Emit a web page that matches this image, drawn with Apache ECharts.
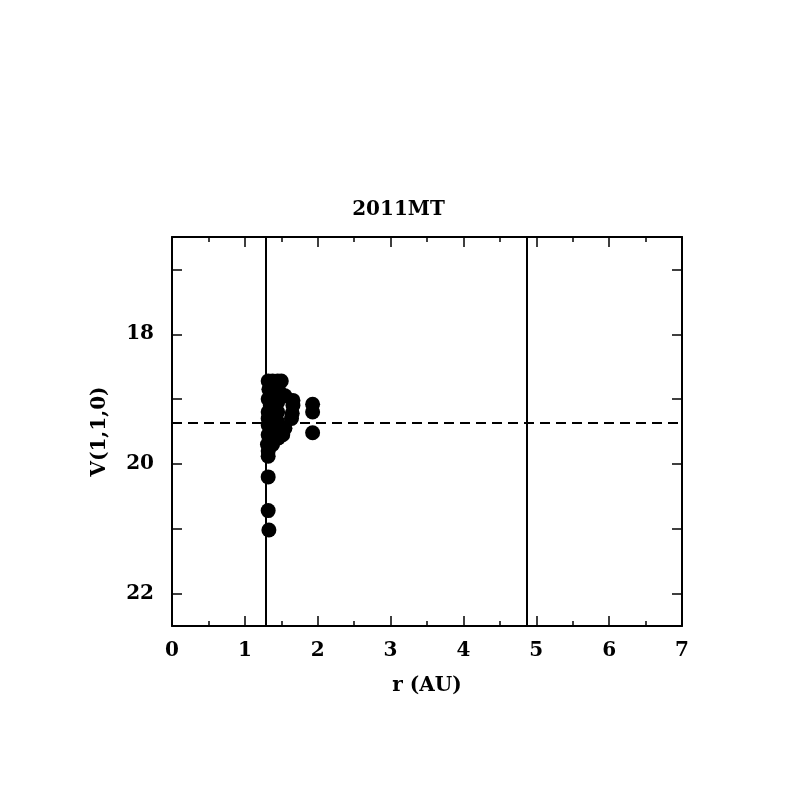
<!DOCTYPE html>
<html><head><meta charset="utf-8">
<script src="https://cdn.jsdelivr.net/npm/echarts@6/dist/echarts.min.js"></script>
<style>html,body{margin:0;padding:0;background:#fff}#c{width:797px;height:797px}</style>
</head><body><div id="c"></div>
<script>
const title = "2011MT";
const xName = "r (AU)";
const yName = "V(1,1,0)";
const rValues = [1.32,1.38,1.45,1.50,1.33,1.42,1.48,1.55,1.66,1.66,1.65,1.64,1.32,1.35,1.32,1.38,1.32,1.45,1.32,1.40,1.50,1.52,1.46,1.32,1.31,1.32,1.32,1.32,1.32,1.33,1.93,1.93,1.93,1.38,1.38,1.38,1.38,1.45,1.45,1.55];
const vValues = [18.72,18.72,18.72,18.72,18.85,18.80,18.90,18.95,19.02,19.10,19.22,19.30,19.00,19.10,19.20,19.25,19.30,19.35,19.40,19.45,19.50,19.55,19.60,19.55,19.70,19.80,19.88,20.20,20.72,21.02,19.08,19.20,19.52,19.00,19.30,19.50,19.70,19.05,19.20,19.45];
const yTicks = [17,18,19,20,21,22];
const yLabels = [18,20,22];
const verticalLines = [1.29, 4.87];
const meanV = 19.36;

const font = "DejaVu Serif";
const pts = rValues.map((r,i)=>[r, vValues[i]]);
const chart = echarts.init(document.getElementById('c'));
const axisLineStyle = {color:'#000', width:2};
const textStyle = {fontFamily:font, fontSize:20, fontWeight:'bold', color:'#000'};
chart.setOption({
  backgroundColor:'#fff',
  animation:false,
  title:{text:title, left:'center', top:195, textStyle:textStyle},
  grid:{left:172, right:115, top:237, bottom:171},
  xAxis:[{
    type:'value', min:0, max:7, interval:1, position:'bottom',
    name:xName, nameLocation:'middle', nameGap:50,
    nameTextStyle:textStyle,
    axisLine:{onZero:false, lineStyle:axisLineStyle},
    axisTick:{inside:true, length:10, lineStyle:{color:'#000', width:1.5}},
    minorTick:{show:true, splitNumber:2, length:5, lineStyle:{color:'#000', width:1.5}},
    axisLabel:Object.assign({margin:15}, textStyle),
    splitLine:{show:false}
  },{
    type:'value', min:0, max:7, interval:1, position:'top',
    axisLine:{onZero:false, lineStyle:axisLineStyle},
    axisTick:{inside:true, length:10, lineStyle:{color:'#000', width:1.5}},
    minorTick:{show:true, splitNumber:2, length:5, lineStyle:{color:'#000', width:1.5}},
    axisLabel:{show:false}, splitLine:{show:false}
  }],
  yAxis:[{
    type:'value', min:16.5, max:22.5, inverse:true, position:'left',
    name:yName, nameLocation:'middle', nameGap:62,
    nameTextStyle:textStyle,
    axisLine:{onZero:false, lineStyle:axisLineStyle},
    axisTick:{inside:true, length:10, lineStyle:{color:'#000', width:1.5}, customValues:yTicks},
    minorTick:{show:false},
    axisLabel:Object.assign({margin:18, customValues:yLabels}, textStyle),
    splitLine:{show:false}
  },{
    type:'value', min:16.5, max:22.5, inverse:true, position:'right',
    axisLine:{onZero:false, lineStyle:axisLineStyle},
    axisTick:{inside:true, length:10, lineStyle:{color:'#000', width:1.5}, customValues:yTicks},
    axisLabel:{show:false}, splitLine:{show:false}
  }],
  series:[{
    type:'scatter', data:pts, symbolSize:15,
    itemStyle:{color:'#000', opacity:1},
    markLine:{
      silent:true, symbol:'none', label:{show:false}, animation:false,
      data:[
        ...verticalLines.map(v=>({xAxis:v, lineStyle:{type:'solid', color:'#000', width:2}})),
        {yAxis:meanV, lineStyle:{type:[10,6], color:'#000', width:2}}
      ]
    },
    z:3
  }]
});
</script></body></html>
